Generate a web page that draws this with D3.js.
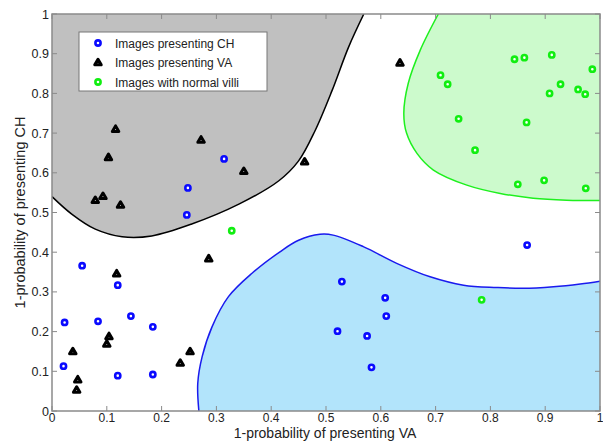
<!DOCTYPE html>
<meta charset="utf-8">
<body style="margin:0;background:#fff">
<svg width="603" height="441"></svg>
<script src="https://d3js.org/d3.v7.min.js"></script>
<script>

// points: [x, y] = [1-prob VA, 1-prob CH]
var chPoints = [
  [0.314, 0.635], [0.248, 0.562], [0.246, 0.494],
  [0.055, 0.366], [0.120, 0.317], [0.023, 0.223], [0.084, 0.226],
  [0.144, 0.239], [0.184, 0.212], [0.021, 0.113], [0.120, 0.089],
  [0.184, 0.092], [0.608, 0.285], [0.610, 0.239], [0.521, 0.201],
  [0.575, 0.189], [0.583, 0.110], [0.529, 0.326], [0.867, 0.418]
];
var vaPoints = [
  [0.116, 0.710], [0.103, 0.639], [0.079, 0.531], [0.093, 0.541],
  [0.125, 0.519], [0.272, 0.683], [0.350, 0.604], [0.461, 0.628],
  [0.635, 0.877], [0.286, 0.384], [0.118, 0.346], [0.104, 0.188],
  [0.100, 0.169], [0.038, 0.150], [0.252, 0.150], [0.234, 0.121],
  [0.047, 0.079], [0.045, 0.053]
];
var normalPoints = [
  [0.328, 0.454], [0.784, 0.280],
  [0.709, 0.846], [0.722, 0.823], [0.742, 0.736], [0.772, 0.657],
  [0.844, 0.886], [0.862, 0.890], [0.912, 0.897], [0.986, 0.861],
  [0.928, 0.823], [0.908, 0.800], [0.960, 0.810], [0.973, 0.798],
  [0.866, 0.727], [0.850, 0.571], [0.898, 0.581], [0.974, 0.561]
];

// decision boundaries
var vaBoundary = [
  [0, 0.540], [0.036, 0.496], [0.079, 0.458], [0.128, 0.439], [0.182, 0.441],
  [0.255, 0.471], [0.341, 0.521], [0.414, 0.580], [0.450, 0.630],
  [0.480, 0.706], [0.511, 0.807], [0.541, 0.916], [0.569, 1.0]
];
var vaCorners = [[0, 1]];

var normalBoundary = [
  [0.705, 1.0], [0.672, 0.909], [0.650, 0.825], [0.642, 0.750], [0.647, 0.700],
  [0.666, 0.649], [0.696, 0.607], [0.757, 0.569], [0.818, 0.548],
  [0.878, 0.536], [0.939, 0.531], [1.0, 0.530]
];
var normalCorners = [[1, 1]];

var chBoundary = [
  [0.268, 0], [0.266, 0.070], [0.274, 0.137], [0.292, 0.212], [0.322, 0.288],
  [0.365, 0.347], [0.416, 0.401], [0.450, 0.430], [0.489, 0.445], [0.513, 0.443],
  [0.568, 0.414], [0.629, 0.372], [0.690, 0.338], [0.751, 0.317],
  [0.812, 0.311], [0.860, 0.309], [0.915, 0.313], [0.964, 0.320], [1.0, 0.327]
];
var chCorners = [[1, 0]];

var ticks = [0, 0.1, 0.2, 0.3, 0.4, 0.5, 0.6, 0.7, 0.8, 0.9, 1];
var legendLabels = ['Images presenting CH', 'Images presenting VA', 'Images with normal villi'];

var svg = d3.select('svg');
var plotL = 52, plotR = 600, plotT = 14, plotB = 411;

var x = d3.scaleLinear().domain([0, 1]).range([plotL, plotR]);
var y = d3.scaleLinear().domain([0, 1]).range([plotB, plotT]);

svg.append('clipPath').attr('id', 'plot')
  .append('rect')
  .attr('x', plotL).attr('y', plotT)
  .attr('width', plotR - plotL).attr('height', plotB - plotT);

var line = d3.line()
  .x(function(d) { return x(d[0]); })
  .y(function(d) { return y(d[1]); })
  .curve(d3.curveCatmullRom);

function regionPath(boundary, corners) {
  var p = line(boundary);
  corners.forEach(function(c) { p += 'L' + x(c[0]) + ',' + y(c[1]); });
  return p + 'Z';
}

var regions = svg.append('g').attr('clip-path', 'url(#plot)');

var regionStyles = [
  [vaBoundary, vaCorners, '#c0c0c0', '#000'],
  [normalBoundary, normalCorners, '#ccfacc', '#1ef01e'],
  [chBoundary, chCorners, '#b2e4fb', '#1a1aee']
];
regionStyles.forEach(function(r) {
  regions.append('path')
    .attr('d', regionPath(r[0], r[1]))
    .attr('fill', r[2]);
  regions.append('path')
    .attr('d', line(r[0]))
    .attr('fill', 'none')
    .attr('stroke', r[3])
    .attr('stroke-width', 1.5);
});

// axes box
var axisColor = '#8a8a8a';
svg.append('rect')
  .attr('x', plotL).attr('y', plotT)
  .attr('width', plotR - plotL).attr('height', plotB - plotT)
  .attr('fill', 'none')
  .attr('stroke', axisColor)
  .attr('stroke-width', 1.5);

var tickLen = 5;
var tg = svg.append('g').attr('stroke', axisColor).attr('stroke-width', 1);
ticks.forEach(function(t) {
  tg.append('line').attr('x1', x(t)).attr('x2', x(t)).attr('y1', plotB).attr('y2', plotB - tickLen);
  tg.append('line').attr('x1', x(t)).attr('x2', x(t)).attr('y1', plotT).attr('y2', plotT + tickLen);
  tg.append('line').attr('y1', y(t)).attr('y2', y(t)).attr('x1', plotL).attr('x2', plotL + tickLen);
  tg.append('line').attr('y1', y(t)).attr('y2', y(t)).attr('x1', plotR).attr('x2', plotR - tickLen);
});

var font = 'Liberation Sans, Arial, sans-serif';
svg.append('g').selectAll('text').data(ticks).enter().append('text')
  .attr('x', function(d) { return x(d); })
  .attr('y', plotB + 11)
  .attr('text-anchor', 'middle')
  .attr('font-family', font).attr('font-size', 12).attr('fill', '#222')
  .text(function(d) { return d3.format('')(d); });

svg.append('g').selectAll('text').data(ticks).enter().append('text')
  .attr('x', plotL - 3)
  .attr('y', function(d) { return y(d) + 4.5; })
  .attr('text-anchor', 'end')
  .attr('font-family', font).attr('font-size', 12.5).attr('fill', '#222')
  .text(function(d) { return d3.format('')(d); });

svg.append('text')
  .attr('x', (plotL + plotR) / 2 - 1).attr('y', 438)
  .attr('text-anchor', 'middle')
  .attr('font-family', font).attr('font-size', 14).attr('fill', '#222')
  .text('1-probability of presenting VA');

svg.append('text')
  .attr('transform', 'translate(25,' + ((plotT + plotB) / 2) + ') rotate(-90)')
  .attr('text-anchor', 'middle')
  .attr('font-family', font).attr('font-size', 14.5).attr('fill', '#222')
  .text('1-probability of presenting CH');

// markers
var tri = d3.symbol().type(d3.symbolTriangle).size(18);

function circles(data, color) {
  svg.append('g').selectAll('circle').data(data).enter().append('circle')
    .attr('cx', function(d) { return x(d[0]); })
    .attr('cy', function(d) { return y(d[1]); })
    .attr('r', 2.6)
    .attr('fill', '#fff')
    .attr('stroke', color)
    .attr('stroke-width', 2.6);
}
circles(chPoints, '#0a0aff');
circles(normalPoints, '#11ee11');

svg.append('g').selectAll('path').data(vaPoints).enter().append('path')
  .attr('d', tri)
  .attr('transform', function(d) { return 'translate(' + x(d[0]) + ',' + (y(d[1]) + 0.5) + ')'; })
  .attr('fill', '#fff')
  .attr('stroke', '#000')
  .attr('stroke-width', 3)
  .attr('stroke-linejoin', 'round');

// legend
var lg = svg.append('g');
lg.append('rect')
  .attr('x', 79).attr('y', 32).attr('width', 188).attr('height', 59)
  .attr('fill', '#fff').attr('stroke', '#777').attr('stroke-width', 1);
legendLabels.forEach(function(lbl, i) {
  var ly = 43 + i * 19.5;
  if (i === 1) {
    lg.append('path').attr('d', tri)
      .attr('transform', 'translate(98,' + (ly + 0.5) + ')')
      .attr('fill', '#fff').attr('stroke', '#000').attr('stroke-width', 3)
      .attr('stroke-linejoin', 'round');
  } else {
    lg.append('circle').attr('cx', 98).attr('cy', ly).attr('r', 2.6)
      .attr('fill', '#fff').attr('stroke', i === 0 ? '#0a0aff' : '#11ee11')
      .attr('stroke-width', 2.6);
  }
  lg.append('text')
    .attr('x', 115).attr('y', ly + 4.5)
    .attr('font-family', font).attr('font-size', 12).attr('fill', '#222')
    .text(lbl);
});

</script>
